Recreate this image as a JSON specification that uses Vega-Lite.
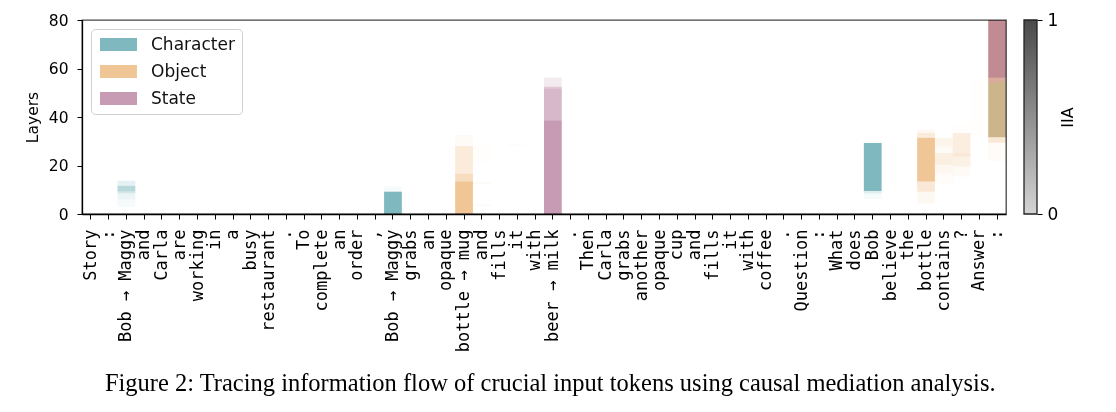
{
  "$schema": "https://vega.github.io/schema/vega-lite/v6.json",
  "background": "white",
  "padding": {"left": 24, "top": 11, "right": 5, "bottom": 5},
  "config": {
    "font": "DejaVu Sans",
    "view": {"stroke": null},
    "axis": {"labelColor": "black", "titleColor": "black", "domainColor": "black", "tickColor": "black", "grid": false, "titleFontWeight": "normal"}
  },
  "title": {
    "text": "Figure 2: Tracing information flow of crucial input tokens using causal mediation analysis.",
    "orient": "bottom",
    "anchor": "middle",
    "font": "Liberation Serif",
    "fontSize": 24.5,
    "fontWeight": "normal",
    "color": "black",
    "offset": 20
  },
  "spacing": 16,
  "hconcat": [
    {
      "width": 924,
      "height": 194,
      "view": {"stroke": "#444", "strokeWidth": 1.3},
      "data": {
        "values": [
          {"i": 21, "cat": "Object", "y0": 0, "y1": 13.4, "iia": 1.0},
          {"i": 21, "cat": "Object", "y0": 13.4, "y1": 16.6, "iia": 0.6},
          {"i": 21, "cat": "Object", "y0": 16.6, "y1": 28.0, "iia": 0.35},
          {"i": 21, "cat": "Object", "y0": 28.0, "y1": 32.5, "iia": 0.1},
          {"i": 22, "cat": "Object", "y0": 20.6, "y1": 28.6, "iia": 0.03},
          {"i": 22, "cat": "Object", "y0": 12.4, "y1": 12.9, "iia": 0.12},
          {"i": 22, "cat": "Object", "y0": 3.4, "y1": 3.9, "iia": 0.12},
          {"i": 24, "cat": "Object", "y0": 28.0, "y1": 28.5, "iia": 0.08},
          {"i": 47, "cat": "Object", "y0": 13.4, "y1": 31.4, "iia": 1.0},
          {"i": 47, "cat": "Object", "y0": 31.4, "y1": 33.4, "iia": 0.35},
          {"i": 47, "cat": "Object", "y0": 33.4, "y1": 34.7, "iia": 0.12},
          {"i": 47, "cat": "Object", "y0": 9.2, "y1": 13.4, "iia": 0.4},
          {"i": 47, "cat": "Object", "y0": 4.4, "y1": 9.2, "iia": 0.12},
          {"i": 48, "cat": "Object", "y0": 28.0, "y1": 31.4, "iia": 0.18},
          {"i": 48, "cat": "Object", "y0": 25.1, "y1": 28.0, "iia": 0.1},
          {"i": 48, "cat": "Object", "y0": 20.3, "y1": 25.1, "iia": 0.28},
          {"i": 48, "cat": "Object", "y0": 16.8, "y1": 20.3, "iia": 0.15},
          {"i": 48, "cat": "Object", "y0": 12.3, "y1": 16.8, "iia": 0.06},
          {"i": 49, "cat": "Object", "y0": 25.1, "y1": 33.4, "iia": 0.3},
          {"i": 49, "cat": "Object", "y0": 23.7, "y1": 25.1, "iia": 0.4},
          {"i": 49, "cat": "Object", "y0": 19.6, "y1": 23.7, "iia": 0.25},
          {"i": 49, "cat": "Object", "y0": 15.5, "y1": 19.6, "iia": 0.08},
          {"i": 49, "cat": "Object", "y0": 33.4, "y1": 36.9, "iia": 0.03},
          {"i": 50, "cat": "Object", "y0": 32.7, "y1": 55.2, "iia": 0.03},
          {"i": 51, "cat": "Object", "y0": 31.6, "y1": 54.2, "iia": 1.0},
          {"i": 51, "cat": "Object", "y0": 54.2, "y1": 56.2, "iia": 0.7},
          {"i": 51, "cat": "Object", "y0": 56.2, "y1": 80, "iia": 0.45},
          {"i": 51, "cat": "Object", "y0": 29.4, "y1": 31.6, "iia": 0.4},
          {"i": 51, "cat": "Object", "y0": 22.0, "y1": 29.4, "iia": 0.07},
          {"i": 26, "cat": "State", "y0": 0, "y1": 38.7, "iia": 1.0},
          {"i": 26, "cat": "State", "y0": 38.7, "y1": 51.7, "iia": 0.72},
          {"i": 26, "cat": "State", "y0": 51.7, "y1": 52.5, "iia": 0.55},
          {"i": 26, "cat": "State", "y0": 52.5, "y1": 56.2, "iia": 0.2},
          {"i": 51, "cat": "State", "y0": 54.2, "y1": 56.2, "iia": 0.5},
          {"i": 51, "cat": "State", "y0": 56.2, "y1": 80, "iia": 1.0},
          {"i": 2, "cat": "Character", "y0": 3.0, "y1": 6.0, "iia": 0.08},
          {"i": 2, "cat": "Character", "y0": 6.0, "y1": 8.5, "iia": 0.15},
          {"i": 2, "cat": "Character", "y0": 8.5, "y1": 9.3, "iia": 0.35},
          {"i": 2, "cat": "Character", "y0": 9.3, "y1": 11.6, "iia": 0.55},
          {"i": 2, "cat": "Character", "y0": 11.6, "y1": 13.7, "iia": 0.2},
          {"i": 17, "cat": "Character", "y0": 0, "y1": 9.2, "iia": 1.0},
          {"i": 17, "cat": "Character", "y0": 9.2, "y1": 11.3, "iia": 0.08},
          {"i": 44, "cat": "Character", "y0": 9.5, "y1": 29.3, "iia": 1.0},
          {"i": 44, "cat": "Character", "y0": 8.5, "y1": 9.5, "iia": 0.25},
          {"i": 44, "cat": "Character", "y0": 6.2, "y1": 8.5, "iia": 0.08},
          {"i": 51, "cat": "Character", "y0": 31.6, "y1": 54.2, "iia": 0.3}
        ]
      },
      "mark": {"type": "rect", "blend": "multiply"},
      "encoding": {
        "x": {
          "field": "i",
          "type": "ordinal",
          "scale": {"domain": [0,1,2,3,4,5,6,7,8,9,10,11,12,13,14,15,16,17,18,19,20,21,22,23,24,25,26,27,28,29,30,31,32,33,34,35,36,37,38,39,40,41,42,43,44,45,46,47,48,49,50,51], "paddingInner": 0, "paddingOuter": 0},
          "axis": {
            "title": null,
            "labelExpr": "['Story',':','Bob → Maggy','and','Carla','are','working','in','a','busy','restaurant','.','To','complete','an','order',',','Bob → Maggy','grabs','an','opaque','bottle → mug','and','fills','it','with','beer → milk','.','Then','Carla','grabs','another','opaque','cup','and','fills','it','with','coffee','.','Question',':','What','does','Bob','believe','the','bottle','contains','?','Answer',':'][datum.value]",
            "labelAngle": 270,
            "labelAlign": "right",
            "labelBaseline": "middle",
            "labelFont": "DejaVu Sans Mono",
            "labelFontSize": 17,
            "labelOverlap": false,
            "labelPadding": 10,
            "tickSize": 5,
            "domainWidth": 1.3
          }
        },
        "y": {
          "field": "y0",
          "type": "quantitative",
          "scale": {"domain": [0, 80], "nice": false},
          "axis": {
            "title": "Layers",
            "values": [0, 20, 40, 60, 80],
            "labelFontSize": 15.5,
            "titleFontSize": 15.5,
            "labelPadding": 9,
            "titlePadding": 8,
            "tickSize": 5,
            "domainWidth": 1.3
          }
        },
        "y2": {"field": "y1"},
        "color": {
          "field": "cat",
          "type": "nominal",
          "scale": {"domain": ["Character", "Object", "State"], "range": ["#80b8bf", "#f0c696", "#c89bb5"]},
          "legend": {
            "title": null,
            "orient": "top-left",
            "offset": 9,
            "padding": 7,
            "fillColor": "white",
            "strokeColor": "#d0d0d0",
            "cornerRadius": 4,
            "labelFont": "DejaVu Sans",
            "labelFontSize": 17,
            "labelColor": "#111",
            "symbolType": "M-1,-1H4.69V1H-1Z",
            "symbolSize": 169,
            "symbolOpacity": 1,
            "symbolStrokeWidth": 0,
            "labelOffset": 36,
            "rowPadding": 9
          }
        },
        "opacity": {
          "field": "iia",
          "type": "quantitative",
          "scale": {"domain": [0, 1], "range": [0, 1]},
          "legend": null
        }
      }
    },
    {
      "width": 13,
      "height": 194,
      "view": {"stroke": null},
      "data": {"values": [{"a": 0, "b": 1, "lo": 0, "hi": 1}]},
      "mark": {
        "type": "rect",
        "stroke": "#222",
        "strokeWidth": 1.3,
        "fill": {"gradient": "linear", "x1": 0, "y1": 1, "x2": 0, "y2": 0, "stops": [{"offset": 0, "color": "#d4d4d4"}, {"offset": 1, "color": "#4a4a4a"}]}
      },
      "encoding": {
        "x": {"field": "a", "type": "quantitative", "scale": {"domain": [0, 1]}, "axis": null},
        "x2": {"field": "b"},
        "y": {
          "field": "lo",
          "type": "quantitative",
          "scale": {"domain": [0, 1], "nice": false},
          "axis": {
            "orient": "right",
            "values": [0, 1],
            "format": "d",
            "title": "IIA",
            "titleAngle": 270,
            "titleFontSize": 16,
            "labelFontSize": 17,
            "domain": false,
            "tickSize": 5,
            "labelPadding": 5,
            "titlePadding": 18
          }
        },
        "y2": {"field": "hi"}
      }
    }
  ]
}
